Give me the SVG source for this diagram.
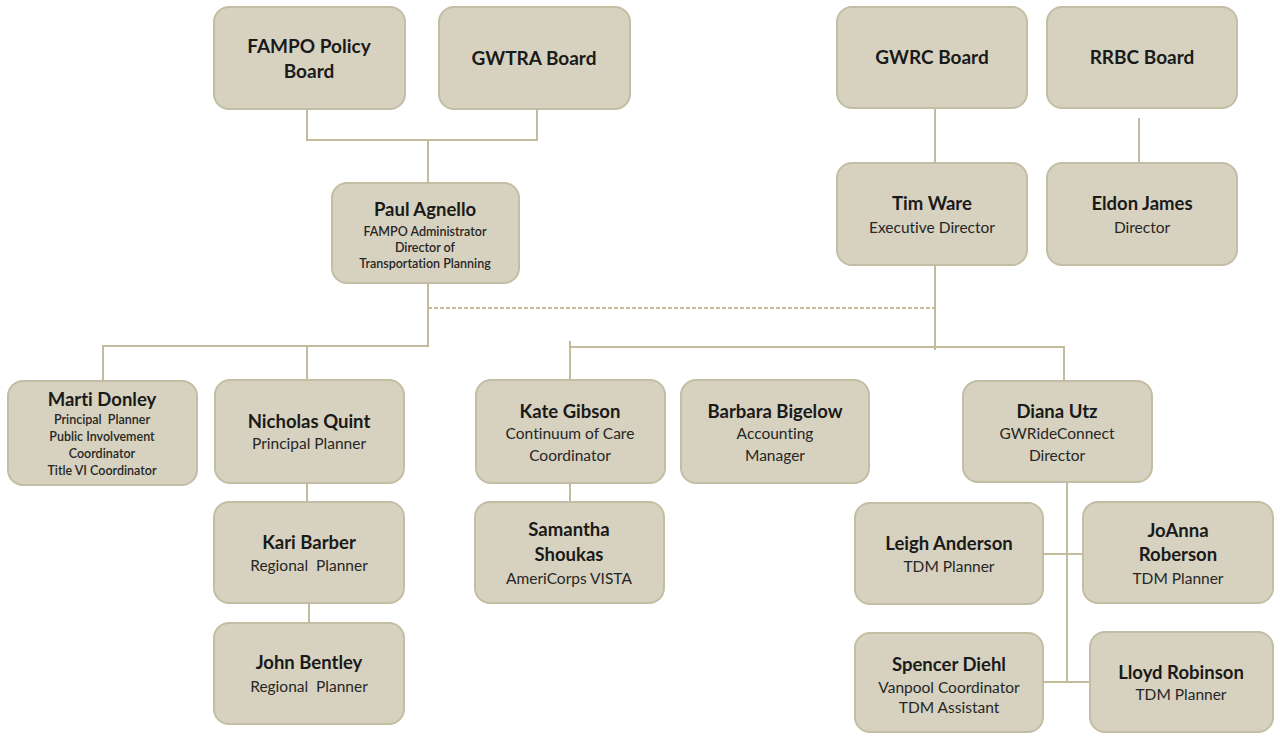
<svg xmlns="http://www.w3.org/2000/svg" width="1278" height="734" viewBox="0 0 1278 734">
<style>
.box{fill:#d7d2bf;stroke:#c3bda4;stroke-width:2}
.ln{fill:none;stroke:#c2bc9c;stroke-width:2}
.dash{fill:none;stroke:#c2bc9c;stroke-width:2;stroke-dasharray:4 2}
text{font-family:Lato,"Liberation Sans",sans-serif;text-anchor:middle;fill:#1a1a1a;white-space:pre;font-variant-ligatures:none;font-feature-settings:"liga" 0}
.n{font-size:18.5px;font-weight:bold}
.b{font-size:19px;font-weight:bold}
.s{font-size:15.5px;fill:#262626}
.t{font-size:12.5px;font-weight:600;fill:#262626}
</style>
<rect width="1278" height="734" fill="#ffffff"/>
<g id="connectors">
<path class="ln" d="M307 109V140H537V109M428 140V183"/>
<path class="ln" d="M428 283V346H103V382M307 346V380"/>
<path class="dash" d="M428 308H934"/>
<path class="ln" d="M935 109V163M935 265V350"/>
<path class="ln" d="M1139 118V163"/>
<path class="ln" d="M570 341V380M570 347H1064V381"/>
<path class="ln" d="M307 483V502M309 603V623"/>
<path class="ln" d="M570 483V502"/>
<path class="ln" d="M1067 482V682M1043 554H1083M1043 682H1090"/>
</g>
<g id="fampo"><rect class="box" x="214" y="7" width="191" height="102" rx="15"/><text class="b" x="309" y="53">FAMPO Policy</text><text class="b" x="309" y="78">Board</text></g>
<g id="gwtra"><rect class="box" x="439" y="7" width="191" height="102" rx="15"/><text class="b" x="534" y="65">GWTRA Board</text></g>
<g id="gwrc"><rect class="box" x="837" y="7" width="190" height="101" rx="15"/><text class="b" x="932" y="64">GWRC Board</text></g>
<g id="rrbc"><rect class="box" x="1047" y="7" width="190" height="101" rx="15"/><text class="b" x="1142" y="64">RRBC Board</text></g>
<g id="paul"><rect class="box" x="332" y="183" width="187" height="100" rx="15"/><text class="n" x="425" y="216">Paul Agnello</text><text class="t" x="425" y="236">FAMPO Administrator</text><text class="t" x="425" y="252">Director of</text><text class="t" x="425" y="268">Transportation Planning</text></g>
<g id="tim"><rect class="box" x="837" y="163" width="190" height="102" rx="15"/><text class="n" x="932" y="210">Tim Ware</text><text class="s" x="932" y="233">Executive Director</text></g>
<g id="eldon"><rect class="box" x="1047" y="163" width="190" height="102" rx="15"/><text class="n" x="1142" y="210">Eldon James</text><text class="s" x="1142" y="233">Director</text></g>
<g id="marti"><rect class="box" x="8" y="381" width="189" height="104" rx="15"/><text class="n" x="102" y="406">Marti Donley</text><text class="t" x="102" y="424">Principal  Planner</text><text class="t" x="102" y="441">Public Involvement</text><text class="t" x="102" y="458">Coordinator</text><text class="t" x="102" y="475">Title VI Coordinator</text></g>
<g id="nicholas"><rect class="box" x="215" y="380" width="189" height="103" rx="15"/><text class="n" x="309" y="428">Nicholas Quint</text><text class="s" x="309" y="449">Principal Planner</text></g>
<g id="kate"><rect class="box" x="476" y="380" width="189" height="103" rx="15"/><text class="n" x="570" y="418">Kate Gibson</text><text class="s" x="570" y="439">Continuum of Care</text><text class="s" x="570" y="461">Coordinator</text></g>
<g id="barbara"><rect class="box" x="681" y="380" width="188" height="103" rx="15"/><text class="n" x="775" y="418">Barbara Bigelow</text><text class="s" x="775" y="439">Accounting</text><text class="s" x="775" y="461">Manager</text></g>
<g id="diana"><rect class="box" x="963" y="381" width="189" height="101" rx="15"/><text class="n" x="1057" y="418">Diana Utz</text><text class="s" x="1057" y="439">GWRideConnect</text><text class="s" x="1057" y="461">Director</text></g>
<g id="kari"><rect class="box" x="214" y="502" width="190" height="101" rx="15"/><text class="n" x="309" y="549">Kari Barber</text><text class="s" x="309" y="571">Regional  Planner</text></g>
<g id="john"><rect class="box" x="214" y="623" width="190" height="101" rx="15"/><text class="n" x="309" y="669">John Bentley</text><text class="s" x="309" y="692">Regional  Planner</text></g>
<g id="samantha"><rect class="box" x="475" y="502" width="189" height="101" rx="15"/><text class="n" x="569" y="536">Samantha</text><text class="n" x="569" y="561">Shoukas</text><text class="s" x="569" y="584">AmeriCorps VISTA</text></g>
<g id="leigh"><rect class="box" x="855" y="503" width="188" height="101" rx="15"/><text class="n" x="949" y="550">Leigh Anderson</text><text class="s" x="949" y="572">TDM Planner</text></g>
<g id="joanna"><rect class="box" x="1083" y="502" width="190" height="101" rx="15"/><text class="n" x="1178" y="537">JoAnna</text><text class="n" x="1178" y="561">Roberson</text><text class="s" x="1178" y="584">TDM Planner</text></g>
<g id="spencer"><rect class="box" x="855" y="633" width="188" height="99" rx="15"/><text class="n" x="949" y="671">Spencer Diehl</text><text class="s" x="949" y="693">Vanpool Coordinator</text><text class="s" x="949" y="713">TDM Assistant</text></g>
<g id="lloyd"><rect class="box" x="1090" y="632" width="183" height="100" rx="15"/><text class="n" x="1181" y="679">Lloyd Robinson</text><text class="s" x="1181" y="700">TDM Planner</text></g>
</svg>
